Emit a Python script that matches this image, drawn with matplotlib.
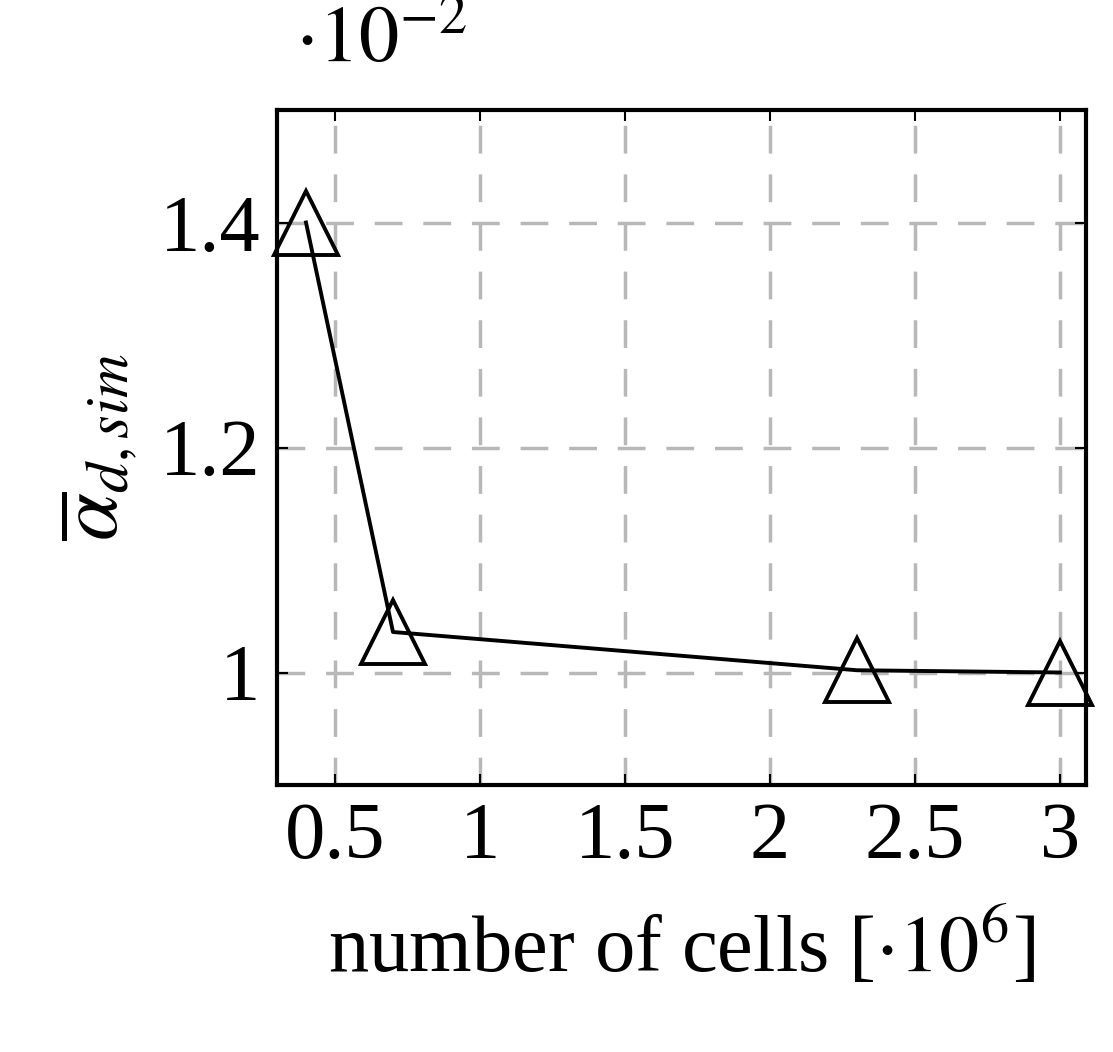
import matplotlib
matplotlib.use("Agg")
import matplotlib.pyplot as plt

cells = [0.4, 0.7, 2.3, 3.0]
alpha = [1.40, 1.036, 1.002, 1.0]
xticks = [0.5, 1, 1.5, 2, 2.5, 3]
yticks = [1.0, 1.2, 1.4]
ytick_labels = ["1", "1.2", "1.4"]

plt.rcParams['font.family'] = ['Liberation Serif', 'DejaVu Serif']
plt.rcParams['mathtext.fontset'] = 'stix'

fig = plt.figure(figsize=(11.13, 10.52), dpi=100)
ax = fig.add_axes([277/1113, 1-785/1052, (1086-277)/1113, (785-110)/1052])
ax.plot(cells, alpha, color='black', lw=2.8, marker='^', markersize=46,
        markerfacecolor='none', markeredgewidth=2.8, clip_on=False, zorder=3)
ax.set_xlim(0.3, 3.09)
ax.set_ylim(0.9, 1.5)
ax.set_xticks(xticks)
ax.set_xticklabels([f"{t:g}" for t in xticks])
ax.set_yticks(yticks)
ax.set_yticklabels(ytick_labels)
ax.grid(True, color='#b8b8b8', ls=(0, (8, 6)), lw=2.5)
ax.tick_params(labelsize=58, length=8, width=1.5, direction='in', top=True, right=True, pad=12)
for s in ax.spines.values():
    s.set_linewidth(3)
ax.set_xlabel(r"number of cells [$\cdot 10^6$]", fontsize=58, labelpad=22)
ax.set_ylabel(r"$\overline{\alpha}_{d,sim}$", fontsize=62, labelpad=14)
fig.text(295/1113, 1-62/1052, r"$\cdot 10^{-2}$", fontsize=58, va='baseline')
fig.savefig("out.png", dpi=100)
